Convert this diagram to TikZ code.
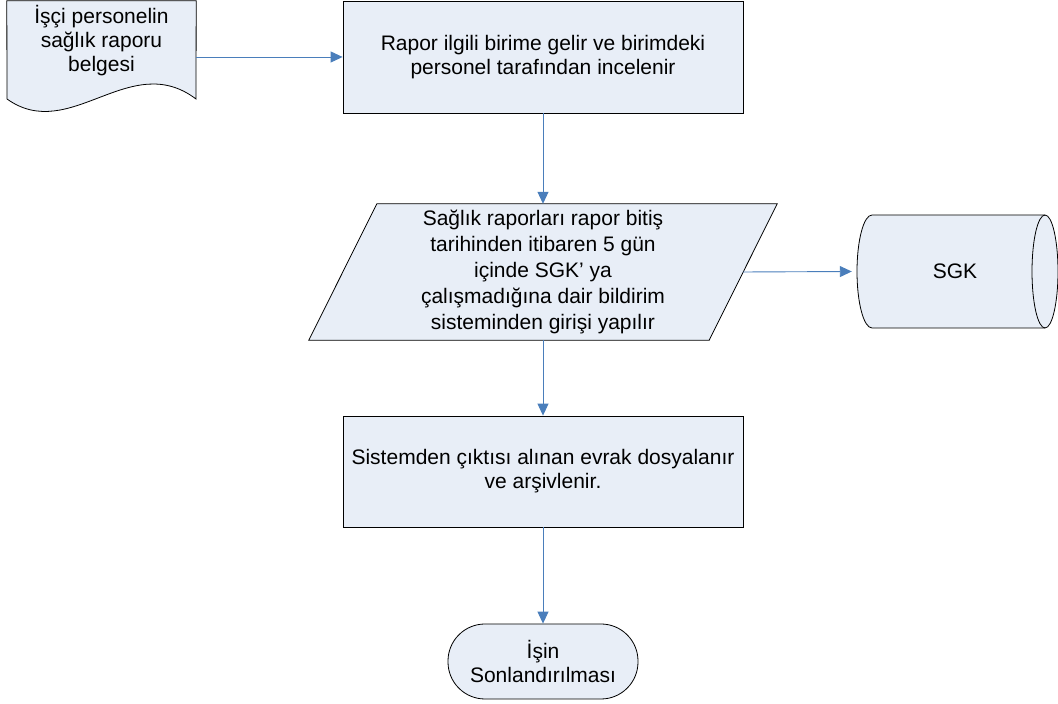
\documentclass[tikz,border=0pt]{standalone}
\usepackage{fontspec}
\setmainfont{Liberation Sans}
\usepackage{xcolor}
\usetikzlibrary{arrows.meta,backgrounds}
\definecolor{shapefill}{RGB}{232,238,247}
\definecolor{flowblue}{RGB}{74,126,187}

\begin{document}
\begin{tikzpicture}[x=1pt,y=1pt,
    font=\fontsize{21}{24}\selectfont,
    box/.style={draw=black,fill=shapefill,line width=0.8pt,minimum width=400pt,align=center,inner sep=0pt},
    ghost/.style={inner sep=0pt,align=center},
    outline/.style={draw=black,fill=shapefill,line width=0.8pt},
    flow/.style={draw=flowblue,line width=0.9pt,-{Triangle[length=12pt,width=11pt]}}]
\useasboundingbox (0,0) rectangle (1058,704);

% document
\node[ghost,minimum width=189pt,minimum height=112pt] (doc) at (101.5,647) {};
\node[ghost] (doctext) at (101.5,663.5) {İşçi personelin\\sağlık raporu\\belgesi};

% process steps
\node[box,minimum height=112pt] (rapor) at (543,647) {Rapor ilgili birime gelir ve birimdeki\\personel tarafından incelenir};
\node[ghost,minimum width=400pt,minimum height=136pt,font=\fontsize{21}{26}\selectfont] (giris) at (543,432)
    {Sağlık raporları rapor bitiş\\tarihinden itibaren 5 gün\\içinde SGK’ ya\\çalışmadığına dair bildirim\\sisteminden girişi yapılır};
\node[ghost,minimum width=201pt,minimum height=113pt] (sgk) at (955,432.5) {SGK};
\node[box,minimum height=111pt] (arsiv) at (543,232.5) {Sistemden çıktısı alınan evrak dosyalanır\\ve arşivlenir.};
\node[box,minimum width=190pt,minimum height=75pt,rounded corners=37pt] (son) at (543,42.5) {İşin\\Sonlandırılması};

\begin{scope}[on background layer]
    \draw[outline] (doc.north west) -- (7,605) .. controls (70,560) and (130,655) .. (196,605) -- (doc.north east) -- cycle;
    \draw[outline] ([xshift=34pt]giris.north west) -- ([xshift=34pt]giris.north east)
        -- ([xshift=-34pt]giris.south east) -- ([xshift=-34pt]giris.south west) -- cycle;
    \draw[outline] (872,489) -- (1045,489) arc[start angle=90,end angle=-90,x radius=13,y radius=56.5]
        -- (872,376) arc[start angle=270,end angle=90,x radius=15,y radius=56.5] -- cycle;
    \draw[line width=0.8pt] (1045,489) arc[start angle=90,end angle=270,x radius=13,y radius=56.5];
\end{scope}

% connectors
\draw[flow] (doc.east) -- (rapor.west);
\draw[flow] (rapor.south) -- (giris.north);
\draw[flow] (giris.east) -- ([xshift=-2.5pt]sgk.west);
\draw[flow] (giris.south) -- (arsiv.north);
\draw[flow] (arsiv.south) -- (son.north);
\end{tikzpicture}
\end{document}
